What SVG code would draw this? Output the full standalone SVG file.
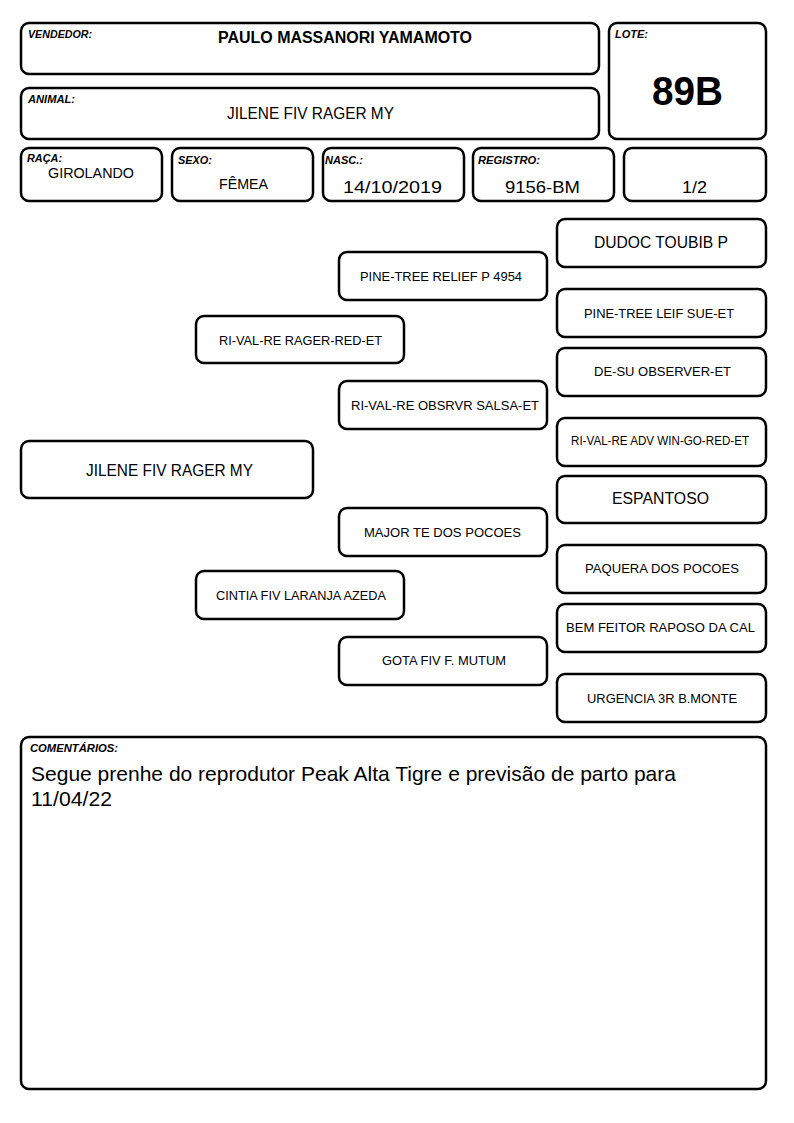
<svg xmlns="http://www.w3.org/2000/svg" width="794" height="1123" viewBox="0 0 794 1123">
<style>
.box{fill:#fff;stroke:#000;stroke-width:2.5}
.lbl{font-family:"Liberation Sans",Arial,sans-serif;font-size:10.5px;font-weight:bold;font-style:italic;fill:#000}
.t{font-family:"Liberation Sans",Arial,sans-serif;fill:#000;text-anchor:middle}
.s13{font-size:13px}
.s12{font-size:12.5px}
.s16{font-size:16px}
</style>
<rect width="794" height="1123" fill="#fff"/>
<g id="vendedor"><rect class="box" x="21" y="23" width="578" height="51" rx="8"/><text class="lbl" x="28" y="38" textLength="64" lengthAdjust="spacingAndGlyphs">VENDEDOR:</text><text class="t" x="345" y="43" font-size="16" font-weight="bold" textLength="254" lengthAdjust="spacingAndGlyphs">PAULO MASSANORI YAMAMOTO</text></g>
<g id="animal"><rect class="box" x="21" y="88" width="578" height="51" rx="8"/><text class="lbl" x="28" y="103" textLength="47" lengthAdjust="spacingAndGlyphs">ANIMAL:</text><text class="t" x="310.5" y="119" font-size="16" textLength="167" lengthAdjust="spacingAndGlyphs">JILENE FIV RAGER MY</text></g>
<g id="lote"><rect class="box" x="609" y="23" width="157" height="116" rx="8"/><text class="lbl" x="615" y="38" textLength="33" lengthAdjust="spacingAndGlyphs">LOTE:</text><text class="t" x="687.5" y="105" font-size="40" font-weight="bold" textLength="71" lengthAdjust="spacingAndGlyphs">89B</text></g>
<g id="raca"><rect class="box" x="21" y="148" width="141" height="53" rx="8"/><text class="lbl" x="27" y="162" textLength="35" lengthAdjust="spacingAndGlyphs">RAÇA:</text><text class="t" x="91" y="178" font-size="15" textLength="86" lengthAdjust="spacingAndGlyphs">GIROLANDO</text></g>
<g id="sexo"><rect class="box" x="172" y="148" width="141" height="53" rx="8"/><text class="lbl" x="178" y="164" textLength="34" lengthAdjust="spacingAndGlyphs">SEXO:</text><text class="t" x="243.5" y="189" font-size="15" textLength="49" lengthAdjust="spacingAndGlyphs">FÊMEA</text></g>
<g id="nasc"><rect class="box" x="323" y="148" width="141" height="53" rx="8"/><text class="lbl" x="325" y="164" textLength="38" lengthAdjust="spacingAndGlyphs">NASC.:</text><text class="t" x="392.5" y="193" font-size="17" textLength="99" lengthAdjust="spacingAndGlyphs">14/10/2019</text></g>
<g id="registro"><rect class="box" x="473" y="148" width="141" height="53" rx="8"/><text class="lbl" x="478" y="164" textLength="62" lengthAdjust="spacingAndGlyphs">REGISTRO:</text><text class="t" x="542.5" y="193" font-size="17" textLength="75" lengthAdjust="spacingAndGlyphs">9156-BM</text></g>
<g id="fracao"><rect class="box" x="624" y="148" width="142" height="53" rx="8"/><text class="t" x="694.5" y="193" font-size="17" textLength="25" lengthAdjust="spacingAndGlyphs">1/2</text></g>
<g id="connectors"></g>
<g id="p0"><rect class="box" x="21" y="441" width="292" height="57" rx="8"/><text class="t s16" x="169.5" y="476" textLength="167" lengthAdjust="spacingAndGlyphs">JILENE FIV RAGER MY</text></g>
<g id="p1"><rect class="box" x="196" y="316" width="208" height="47" rx="8"/><text class="t s13" x="300.5" y="345" textLength="163" lengthAdjust="spacingAndGlyphs">RI-VAL-RE RAGER-RED-ET</text></g>
<g id="p2"><rect class="box" x="196" y="571" width="208" height="48" rx="8"/><text class="t s13" x="301" y="600" textLength="170" lengthAdjust="spacingAndGlyphs">CINTIA FIV LARANJA AZEDA</text></g>
<g id="p3"><rect class="box" x="339" y="252" width="208" height="48" rx="8"/><text class="t s13" x="441" y="281" textLength="162" lengthAdjust="spacingAndGlyphs">PINE-TREE RELIEF P 4954</text></g>
<g id="p4"><rect class="box" x="339" y="381" width="208" height="48" rx="8"/><text class="t s13" x="445" y="410" textLength="188" lengthAdjust="spacingAndGlyphs">RI-VAL-RE OBSRVR SALSA-ET</text></g>
<g id="p5"><rect class="box" x="339" y="508" width="208" height="48" rx="8"/><text class="t s13" x="442.5" y="537" textLength="157" lengthAdjust="spacingAndGlyphs">MAJOR TE DOS POCOES</text></g>
<g id="p6"><rect class="box" x="339" y="637" width="208" height="48" rx="8"/><text class="t s13" x="444" y="665" textLength="124" lengthAdjust="spacingAndGlyphs">GOTA FIV F. MUTUM</text></g>
<g id="p7"><rect class="box" x="557" y="219" width="209" height="48" rx="8"/><text class="t s16" x="661" y="248" textLength="134" lengthAdjust="spacingAndGlyphs">DUDOC TOUBIB P</text></g>
<g id="p8"><rect class="box" x="557" y="289" width="209" height="48" rx="8"/><text class="t s13" x="659" y="318" textLength="150" lengthAdjust="spacingAndGlyphs">PINE-TREE LEIF SUE-ET</text></g>
<g id="p9"><rect class="box" x="557" y="348" width="209" height="48" rx="8"/><text class="t s13" x="662.5" y="376" textLength="137" lengthAdjust="spacingAndGlyphs">DE-SU OBSERVER-ET</text></g>
<g id="p10"><rect class="box" x="557" y="418" width="209" height="48" rx="8"/><text class="t s12" x="660" y="445" textLength="178" lengthAdjust="spacingAndGlyphs">RI-VAL-RE ADV WIN-GO-RED-ET</text></g>
<g id="p11"><rect class="box" x="557" y="476" width="209" height="47" rx="8"/><text class="t s16" x="660.5" y="504" textLength="97" lengthAdjust="spacingAndGlyphs">ESPANTOSO</text></g>
<g id="p12"><rect class="box" x="557" y="545" width="209" height="48" rx="8"/><text class="t s13" x="662" y="573" textLength="154" lengthAdjust="spacingAndGlyphs">PAQUERA DOS POCOES</text></g>
<g id="p13"><rect class="box" x="557" y="604" width="209" height="48" rx="8"/><text class="t s13" x="660.5" y="632" textLength="189" lengthAdjust="spacingAndGlyphs">BEM FEITOR RAPOSO DA CAL</text></g>
<g id="p14"><rect class="box" x="557" y="674" width="209" height="48" rx="8"/><text class="t s13" x="662" y="703" textLength="150" lengthAdjust="spacingAndGlyphs">URGENCIA 3R B.MONTE</text></g>
<g id="comentarios"><rect class="box" x="21" y="737" width="745" height="352" rx="8"/><text class="lbl" x="30" y="752" textLength="88" lengthAdjust="spacingAndGlyphs">COMENTÁRIOS:</text><text font-family="'Liberation Sans',Arial,sans-serif" font-size="21" x="31" y="781" textLength="645" lengthAdjust="spacingAndGlyphs">Segue prenhe do reprodutor Peak Alta Tigre e previsão de parto para</text><text font-family="'Liberation Sans',Arial,sans-serif" font-size="21" x="31" y="806" textLength="81" lengthAdjust="spacingAndGlyphs">11/04/22</text></g>
</svg>
